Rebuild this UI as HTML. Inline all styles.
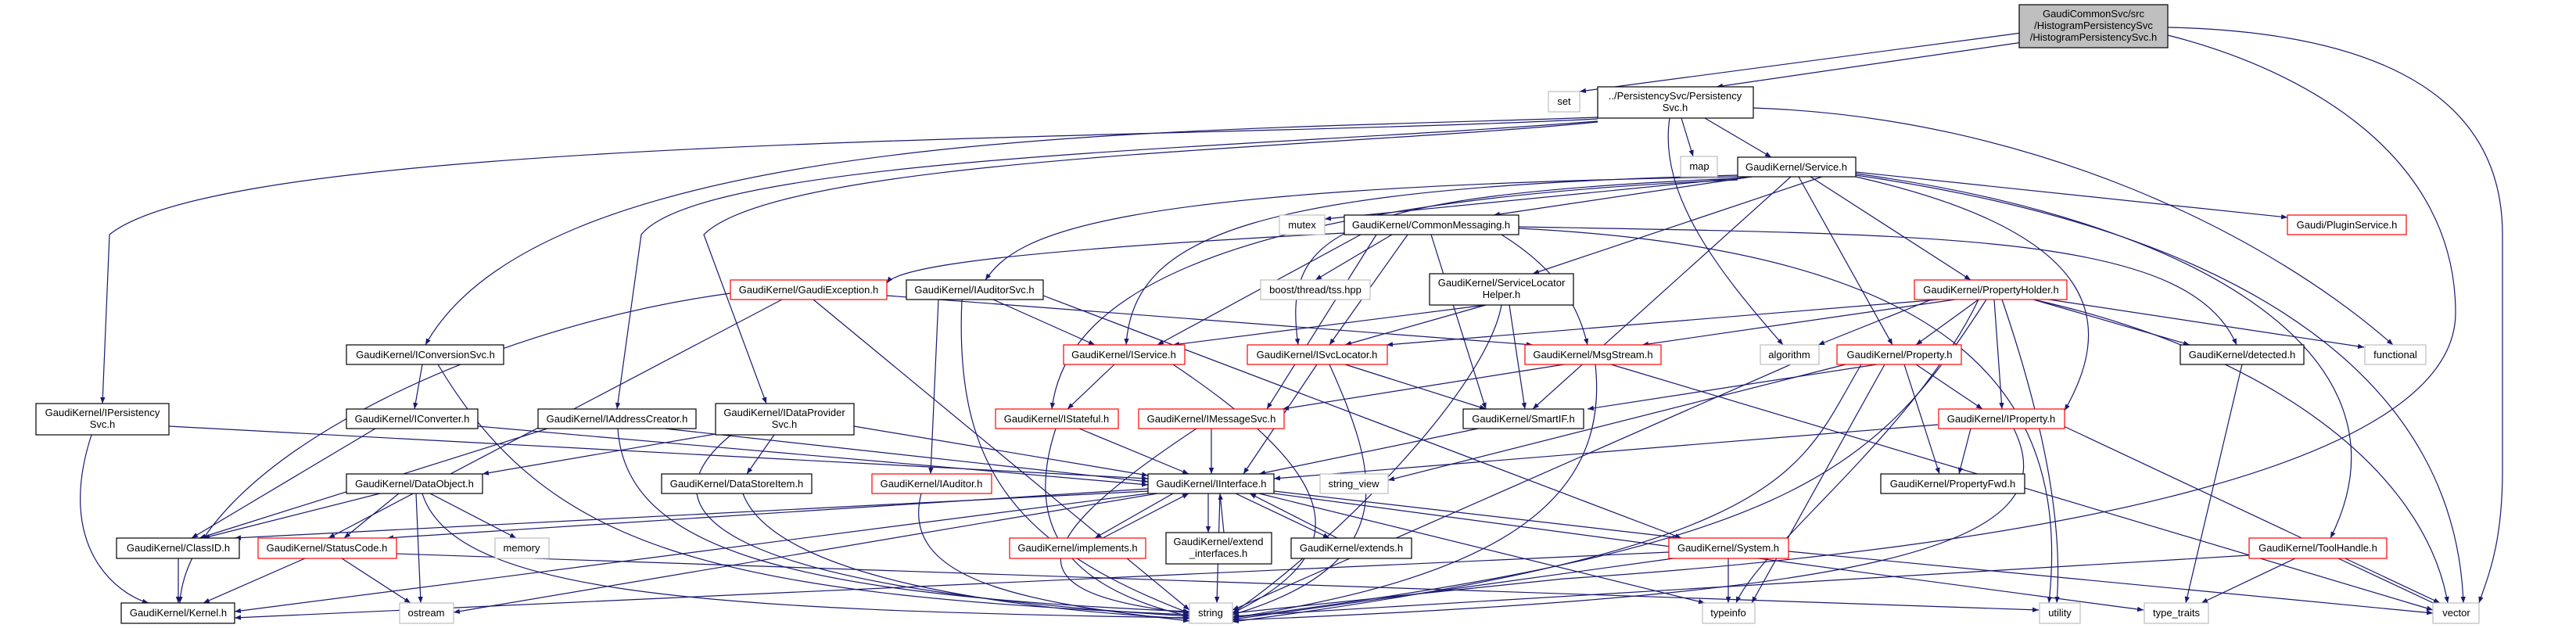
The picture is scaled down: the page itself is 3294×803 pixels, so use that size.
<!DOCTYPE html>
<html><head><meta charset="utf-8"><style>
html,body{margin:0;padding:0;background:#fff}
svg{display:block}
text{font-family:"Liberation Sans",sans-serif;font-size:13px;fill:#000;text-anchor:middle}
.b{fill:#fff;stroke:#000;stroke-width:1.2}
.r{fill:#fff;stroke:#ff0000;stroke-width:1.2}
.g{fill:#fff;stroke:#bfbfbf;stroke-width:1.2}
.e line,.e path{stroke:#191970;stroke-width:1.2;fill:none;marker-end:url(#a)}
</style></head><body>
<svg width="3294" height="803" viewBox="0 0 3294 803" xmlns="http://www.w3.org/2000/svg">
<defs><marker id="a" viewBox="0 0 10 10" refX="10" refY="5" markerWidth="8" markerHeight="8" orient="auto" markerUnits="userSpaceOnUse"><path d="M0,1 L10,5 L0,9 z" fill="#191970"/></marker></defs>
<g class="e">
<line x1="2600" y1="40" x2="2020" y2="117"/>
<line x1="2600" y1="52" x2="2195" y2="111"/>
<path d="M2772,35 C3000,40 3200,100 3200,300 L3200,600 C3200,700 3180,740 3170,771"/>
<path d="M2772,45 C2950,90 3140,200 3140,400 C3140,600 2600,700 2000,740 C1800,760 1650,775 1576,784"/>
<path d="M2242,138 C2600,150 2900,300 3060,441"/>
<line x1="2150" y1="151" x2="2165" y2="200"/>
<line x1="2180" y1="151" x2="2265" y2="201"/>
<path d="M2043,150 C1500,170 700,160 544,441"/>
<path d="M2043,152 C1500,180 300,170 140,300 L131,516"/>
<path d="M2043,155 C1600,190 900,200 820,300 L789,523"/>
<path d="M2043,156 C1700,190 1000,200 900,300 L980,516"/>
<path d="M2135,151 C2120,250 2200,350 2280,441"/>
<line x1="2240" y1="226" x2="1694" y2="280"/>
<line x1="2240" y1="226" x2="1910" y2="275"/>
<line x1="2373" y1="220" x2="2925" y2="278"/>
<line x1="2330" y1="226" x2="1960" y2="350"/>
<path d="M2222,226 C1400,240 1300,300 1260,358"/>
<line x1="2315" y1="226" x2="2520" y2="358"/>
<path d="M2222,224 C1600,240 1450,300 1440,441"/>
<path d="M2222,228 C1700,250 1640,300 1660,441"/>
<path d="M2222,230 C1500,260 1360,400 1345,523"/>
<line x1="2290" y1="226" x2="1960" y2="523"/>
<line x1="2300" y1="226" x2="2420" y2="441"/>
<path d="M2373,226 C2700,300 2700,420 2640,525"/>
<path d="M2373,222 C2800,280 3100,450 2980,688"/>
<path d="M2373,224 C2900,300 3140,500 3150,771"/>
<line x1="1780" y1="300" x2="1682" y2="358"/>
<path d="M1719,298 C1300,320 1150,340 1134,362"/>
<line x1="1740" y1="300" x2="1480" y2="441"/>
<line x1="1800" y1="300" x2="1700" y2="441"/>
<line x1="1760" y1="300" x2="1620" y2="523"/>
<path d="M1920,300 C2000,350 2020,400 2030,441"/>
<line x1="1830" y1="300" x2="1900" y2="523"/>
<path d="M1942,290 C2500,300 2800,300 2860,441"/>
<path d="M1942,292 C2500,320 2650,500 2620,771"/>
<line x1="1900" y1="390" x2="1500" y2="441"/>
<line x1="1900" y1="390" x2="1720" y2="441"/>
<line x1="1930" y1="390" x2="1950" y2="523"/>
<path d="M1920,390 C1900,500 1700,700 1576,784"/>
<line x1="1200" y1="383" x2="1190" y2="606"/>
<line x1="1270" y1="383" x2="1400" y2="441"/>
<line x1="1334" y1="378" x2="2150" y2="688"/>
<path d="M1230,383 C1220,600 1300,700 1521,784"/>
<line x1="1000" y1="383" x2="420" y2="688"/>
<path d="M934,375 C600,420 240,600 230,771"/>
<line x1="1040" y1="383" x2="1521" y2="780"/>
<line x1="1134" y1="378" x2="1960" y2="441"/>
<line x1="2480" y1="383" x2="1773" y2="441"/>
<line x1="2500" y1="383" x2="2100" y2="441"/>
<line x1="2530" y1="383" x2="2450" y2="441"/>
<line x1="2550" y1="383" x2="2560" y2="523"/>
<line x1="2470" y1="383" x2="2325" y2="441"/>
<line x1="2600" y1="383" x2="2800" y2="441"/>
<line x1="2620" y1="383" x2="3023" y2="444"/>
<path d="M2600,383 C2900,450 3100,600 3130,771"/>
<path d="M2560,383 C2600,500 2640,650 2630,771"/>
<path d="M2540,383 C2400,600 2300,700 1576,790"/>
<path d="M2530,383 C2450,550 2250,700 2220,771"/>
<line x1="540" y1="466" x2="530" y2="523"/>
<path d="M560,466 C700,700 900,760 1521,786"/>
<line x1="216" y1="545" x2="1468" y2="612"/>
<path d="M117,556 C70,700 150,760 190,771"/>
<line x1="480" y1="548" x2="245" y2="688"/>
<line x1="611" y1="545" x2="1468" y2="620"/>
<line x1="700" y1="548" x2="255" y2="688"/>
<line x1="850" y1="548" x2="1468" y2="616"/>
<path d="M790,548 C800,700 1000,760 1521,782"/>
<line x1="915" y1="555" x2="617" y2="606"/>
<line x1="990" y1="556" x2="955" y2="606"/>
<line x1="1092" y1="545" x2="1468" y2="608"/>
<path d="M935,556 C820,650 900,750 1521,788"/>
<line x1="486" y1="631" x2="260" y2="688"/>
<line x1="510" y1="631" x2="440" y2="688"/>
<line x1="550" y1="631" x2="660" y2="688"/>
<line x1="532" y1="631" x2="538" y2="771"/>
<path d="M540,631 C580,760 900,780 1521,790"/>
<path d="M950,631 C990,740 1300,780 1521,791"/>
<line x1="228" y1="714" x2="228" y2="771"/>
<line x1="390" y1="714" x2="260" y2="771"/>
<line x1="437" y1="714" x2="525" y2="771"/>
<line x1="506" y1="708" x2="2607" y2="780"/>
<line x1="1425" y1="466" x2="1365" y2="523"/>
<path d="M1500,466 C1700,600 1750,700 1576,784"/>
<line x1="1684" y1="466" x2="1590" y2="606"/>
<line x1="1720" y1="466" x2="1900" y2="523"/>
<path d="M1700,466 C1760,600 1800,720 1576,786"/>
<line x1="2000" y1="466" x2="1640" y2="523"/>
<path d="M2040,466 C2060,650 1900,740 1576,790"/>
<line x1="2060" y1="466" x2="3111" y2="780"/>
<line x1="1380" y1="548" x2="1520" y2="606"/>
<path d="M1350,548 C1300,700 1400,760 1521,788"/>
<line x1="1549" y1="548" x2="1549" y2="606"/>
<path d="M1530,548 C1300,700 1300,760 1521,784"/>
<line x1="1890" y1="548" x2="1610" y2="606"/>
<path d="M1178,631 C1150,740 1300,770 1521,794"/>
<line x1="1500" y1="631" x2="1400" y2="688"/>
<line x1="1545" y1="631" x2="1545" y2="681"/>
<line x1="1580" y1="631" x2="1700" y2="688"/>
<line x1="1629" y1="628" x2="2150" y2="688"/>
<line x1="1468" y1="625" x2="495" y2="688"/>
<line x1="1468" y1="628" x2="300" y2="688"/>
<line x1="1468" y1="631" x2="300" y2="782"/>
<line x1="1560" y1="631" x2="1556" y2="771"/>
<line x1="1610" y1="631" x2="2180" y2="771"/>
<line x1="1480" y1="631" x2="580" y2="783"/>
<line x1="1629" y1="631" x2="2741" y2="780"/>
<line x1="1410" y1="688" x2="1520" y2="631"/>
<line x1="1565" y1="681" x2="1560" y2="631"/>
<line x1="1710" y1="688" x2="1598" y2="631"/>
<line x1="2140" y1="714" x2="1576" y2="792"/>
<line x1="2210" y1="714" x2="2210" y2="771"/>
<line x1="2287" y1="705" x2="3111" y2="784"/>
<line x1="2134" y1="706" x2="300" y2="790"/>
<line x1="2290" y1="466" x2="1576" y2="780"/>
<line x1="2400" y1="466" x2="2030" y2="523"/>
<line x1="2450" y1="466" x2="2535" y2="523"/>
<line x1="2435" y1="466" x2="2480" y2="606"/>
<line x1="2360" y1="466" x2="1775" y2="614"/>
<line x1="2410" y1="466" x2="2240" y2="771"/>
<path d="M2380,466 C2300,600 2300,700 1576,795"/>
<line x1="2520" y1="548" x2="2505" y2="606"/>
<line x1="2478" y1="543" x2="1629" y2="612"/>
<line x1="2639" y1="545" x2="3120" y2="771"/>
<path d="M2575,548 C2650,700 2400,760 1576,793"/>
<line x1="2867" y1="466" x2="2795" y2="771"/>
<line x1="2935" y1="714" x2="2815" y2="771"/>
<line x1="2990" y1="714" x2="3120" y2="775"/>
<line x1="2876" y1="710" x2="1576" y2="788"/>
</g>
<rect class="b" x="2582" y="6" width="190" height="55" style="fill:#bfbfbf"/>
<text x="2677" y="22">GaudiCommonSvc/src</text><text x="2677" y="37">/HistogramPersistencySvc</text><text x="2677" y="52">/HistogramPersistencySvc.h</text>
<rect class="g" x="1980" y="117" width="40" height="26"/><text x="2000" y="134">set</text>
<rect class="b" x="2043" y="111" width="199" height="40"/><text x="2142" y="127">../PersistencySvc/Persistency</text><text x="2142" y="142">Svc.h</text>
<rect class="g" x="2149" y="200" width="47" height="26"/><text x="2173" y="217">map</text>
<rect class="b" x="2222" y="201" width="151" height="25"/><text x="2297" y="218">GaudiKernel/Service.h</text>
<rect class="g" x="1636" y="275" width="58" height="25"/><text x="1665" y="292">mutex</text>
<rect class="b" x="1719" y="275" width="223" height="25"/><text x="1830" y="292">GaudiKernel/CommonMessaging.h</text>
<rect class="r" x="2925" y="275" width="152" height="25"/><text x="3001" y="292">Gaudi/PluginService.h</text>
<rect class="g" x="1612" y="358" width="140" height="25"/><text x="1682" y="375">boost/thread/tss.hpp</text>
<rect class="b" x="1828" y="350" width="184" height="40"/><text x="1920" y="366">GaudiKernel/ServiceLocator</text><text x="1920" y="381">Helper.h</text>
<rect class="b" x="1159" y="358" width="175" height="25"/><text x="1246" y="375">GaudiKernel/IAuditorSvc.h</text>
<rect class="r" x="934" y="358" width="200" height="25"/><text x="1034" y="375">GaudiKernel/GaudiException.h</text>
<rect class="r" x="2448" y="358" width="195" height="25"/><text x="2546" y="375">GaudiKernel/PropertyHolder.h</text>
<rect class="b" x="443" y="441" width="201" height="25"/><text x="544" y="458">GaudiKernel/IConversionSvc.h</text>
<rect class="r" x="1360" y="441" width="155" height="25"/><text x="1437" y="458">GaudiKernel/IService.h</text>
<rect class="r" x="1595" y="441" width="179" height="25"/><text x="1684" y="458">GaudiKernel/ISvcLocator.h</text>
<rect class="r" x="1950" y="441" width="174" height="25"/><text x="2037" y="458">GaudiKernel/MsgStream.h</text>
<rect class="g" x="2251" y="441" width="75" height="25"/><text x="2288" y="458">algorithm</text>
<rect class="r" x="2349" y="441" width="159" height="25"/><text x="2429" y="458">GaudiKernel/Property.h</text>
<rect class="b" x="2788" y="441" width="158" height="25"/><text x="2867" y="458">GaudiKernel/detected.h</text>
<rect class="g" x="3024" y="441" width="78" height="25"/><text x="3063" y="458">functional</text>
<rect class="b" x="46" y="516" width="170" height="40"/><text x="131" y="532">GaudiKernel/IPersistency</text><text x="131" y="547">Svc.h</text>
<rect class="b" x="443" y="523" width="168" height="25"/><text x="527" y="540">GaudiKernel/IConverter.h</text>
<rect class="b" x="688" y="523" width="202" height="25"/><text x="789" y="540">GaudiKernel/IAddressCreator.h</text>
<rect class="b" x="915" y="516" width="177" height="40"/><text x="1003" y="532">GaudiKernel/IDataProvider</text><text x="1003" y="547">Svc.h</text>
<rect class="r" x="1273" y="523" width="157" height="25"/><text x="1351" y="540">GaudiKernel/IStateful.h</text>
<rect class="r" x="1456" y="523" width="186" height="25"/><text x="1549" y="540">GaudiKernel/IMessageSvc.h</text>
<rect class="b" x="1871" y="523" width="154" height="25"/><text x="1948" y="540">GaudiKernel/SmartIF.h</text>
<rect class="r" x="2479" y="523" width="161" height="25"/><text x="2559" y="540">GaudiKernel/IProperty.h</text>
<rect class="b" x="443" y="606" width="174" height="25"/><text x="530" y="623">GaudiKernel/DataObject.h</text>
<rect class="b" x="846" y="606" width="192" height="25"/><text x="942" y="623">GaudiKernel/DataStoreItem.h</text>
<rect class="r" x="1115" y="606" width="153" height="25"/><text x="1191" y="623">GaudiKernel/IAuditor.h</text>
<rect class="b" x="1468" y="606" width="161" height="25"/><text x="1549" y="623">GaudiKernel/IInterface.h</text>
<rect class="g" x="1688" y="606" width="87" height="25"/><text x="1731" y="623">string_view</text>
<rect class="b" x="2405" y="606" width="184" height="25"/><text x="2497" y="623">GaudiKernel/PropertyFwd.h</text>
<rect class="b" x="149" y="688" width="157" height="26"/><text x="228" y="705">GaudiKernel/ClassID.h</text>
<rect class="r" x="330" y="688" width="177" height="26"/><text x="418" y="705">GaudiKernel/StatusCode.h</text>
<rect class="g" x="633" y="688" width="69" height="26"/><text x="667" y="705">memory</text>
<rect class="r" x="1291" y="688" width="174" height="26"/><text x="1378" y="705">GaudiKernel/implements.h</text>
<rect class="b" x="1491" y="681" width="135" height="40"/><text x="1558" y="697">GaudiKernel/extend</text><text x="1558" y="712">_interfaces.h</text>
<rect class="b" x="1651" y="688" width="154" height="26"/><text x="1728" y="705">GaudiKernel/extends.h</text>
<rect class="r" x="2134" y="688" width="153" height="26"/><text x="2210" y="705">GaudiKernel/System.h</text>
<rect class="r" x="2876" y="688" width="176" height="26"/><text x="2964" y="705">GaudiKernel/ToolHandle.h</text>
<rect class="b" x="155" y="771" width="145" height="26"/><text x="228" y="788">GaudiKernel/Kernel.h</text>
<rect class="g" x="511" y="771" width="69" height="26"/><text x="545" y="788">ostream</text>
<rect class="g" x="1521" y="771" width="55" height="26"/><text x="1548" y="788">string</text>
<rect class="g" x="2177" y="771" width="67" height="26"/><text x="2210" y="788">typeinfo</text>
<rect class="g" x="2608" y="771" width="52" height="26"/><text x="2634" y="788">utility</text>
<rect class="g" x="2742" y="771" width="82" height="26"/><text x="2783" y="788">type_traits</text>
<rect class="g" x="3111" y="771" width="59" height="26"/><text x="3141" y="788">vector</text>
</svg>
</body></html>
